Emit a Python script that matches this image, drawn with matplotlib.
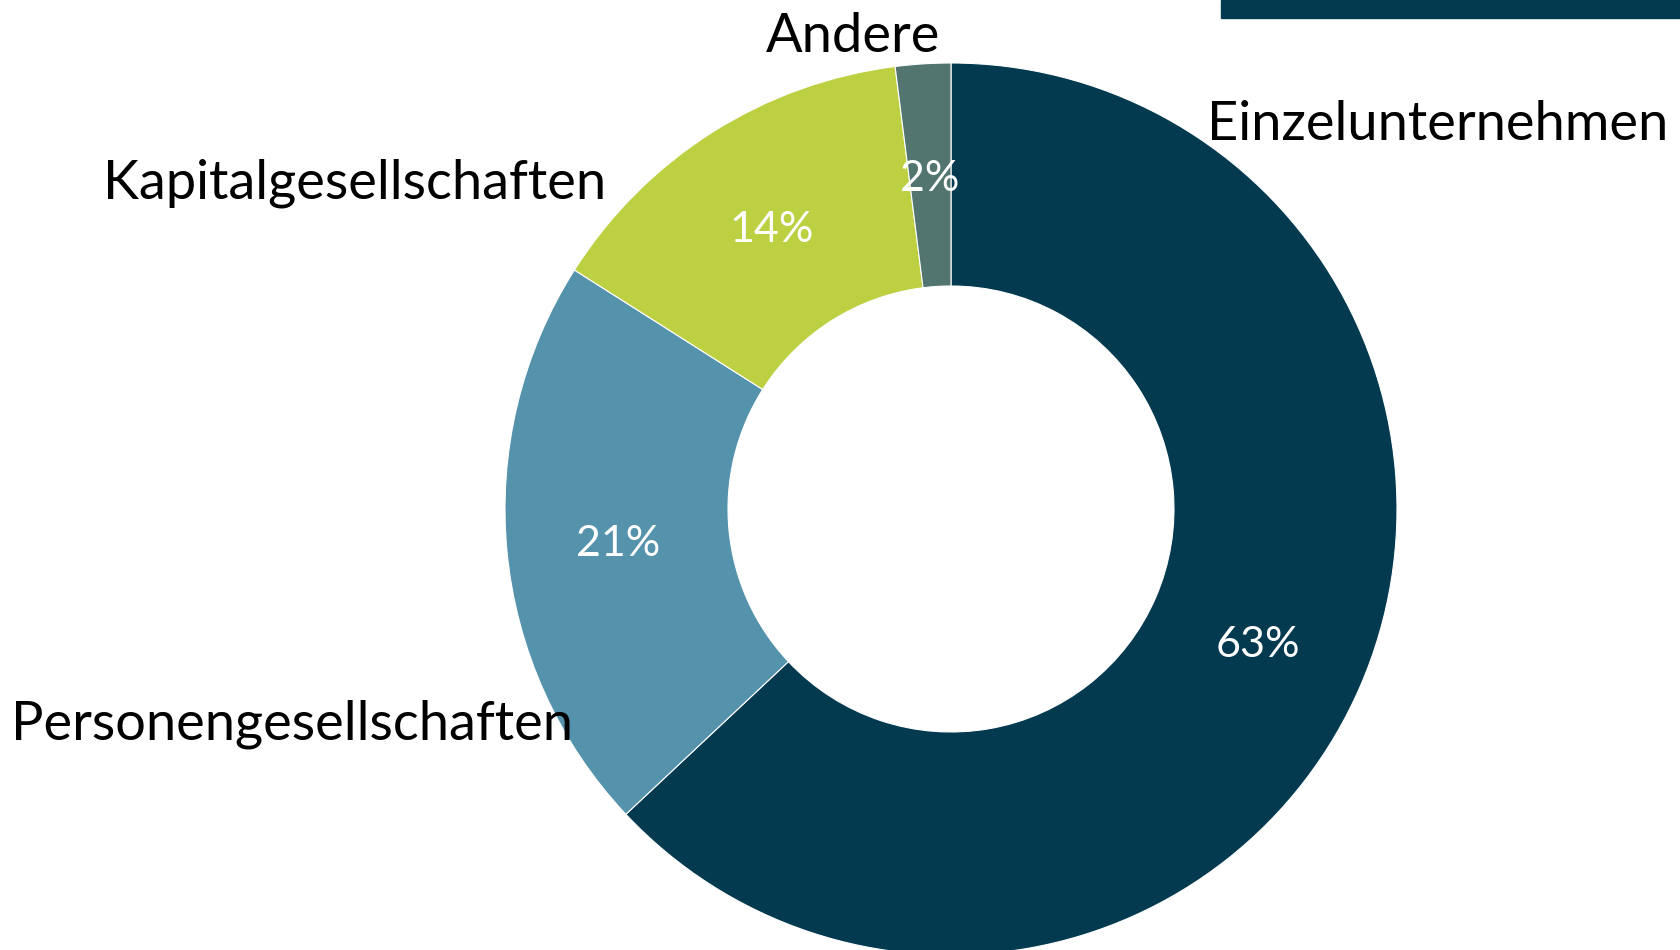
import matplotlib.pyplot as plt
from matplotlib.patches import Rectangle

# Rechtsformen der Unternehmen (Anteile in %)
categories = ['Einzelunternehmen', 'Personengesellschaften', 'Kapitalgesellschaften', 'Andere']
shares = [63, 21, 14, 2]
colors = ['#033a4f', '#5592ab', '#bdd042', '#52756f']

# pixel geometry of the donut in the 1680x950 picture
cx, cy, R = 951, 509, 446

# outer category labels: anchor x in pixels, y in pie radius units
label_x_px = [1207, 11, 606, 853]
label_y = [0.862, -0.483, 0.731, 1.060]
label_ha = ['left', 'left', 'right', 'center']

plt.rcParams['font.family'] = ['Lato', 'DejaVu Sans']

fig = plt.figure(figsize=(16.8, 9.5), dpi=100)
ax = fig.add_axes([0, 0, 1, 1])

wedges, texts, autotexts = ax.pie(
    shares, colors=colors, startangle=90, counterclock=False,
    radius=1.0, pctdistance=0.75, autopct='%1.0f%%',
    wedgeprops=dict(width=0.5, edgecolor='white', linewidth=0.8),
    textprops=dict(color='white', fontsize=31))

for t in autotexts:
    x, y = t.get_position()
    t.set_position((x, y - 0.008))

for px, y, name, ha in zip(label_x_px, label_y, categories, label_ha):
    ax.text((px - cx) / R, y, name, ha=ha, va='center', fontsize=39, color='black')

ax.set_xlim(-cx / R, (1680 - cx) / R)
ax.set_ylim(-(950 - cy) / R, cy / R)
ax.set_aspect('auto')
ax.axis('off')

# dark bar at the top right (cut-off title box)
fig.patches.append(Rectangle((1221 / 1680, 1 - 18 / 950), 459 / 1680, 18 / 950,
                             transform=fig.transFigure, color='#033a4f', zorder=5))

fig.savefig('out.png', dpi=100)
